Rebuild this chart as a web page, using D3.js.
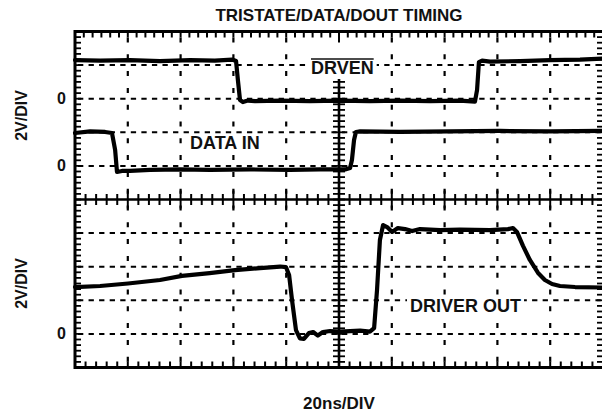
<!DOCTYPE html>
<meta charset="utf-8">
<style>
  body { margin:0; background:#fff; }
  svg { display:block; }
  text {
    font-family: "Liberation Sans", Arial, Helvetica, sans-serif;
    font-weight: bold;
    fill: #111;
  }
</style>
<svg width="602" height="416"></svg>
<script src="https://cdn.jsdelivr.net/npm/d3@7"></script>
<script>

// scope traces: time in ns (0 = centre), level in volts
var drvenT = [-100, -90.5, -79.2, -67.8, -56.4, -47.0, -40.5, -39.0, -38.3, -37.5, -36.4, -34.5, -31.8, -22.3, -11.0, 0, 11.7, 23.1, 34.5, 45.8, 51.5, 52.3, 53.0, 54.2, 57.2, 68.6, 79.9, 91.3, 100];
var drvenV = [2.30, 2.27, 2.30, 2.24, 2.30, 2.27, 2.33, 2.24, 1.11, -0.08, -0.20, -0.11, -0.14, -0.11, -0.14, -0.11, -0.14, -0.11, -0.14, -0.11, -0.17, 0.52, 2.18, 2.27, 2.21, 2.24, 2.30, 2.33, 2.39];

var dataInT = [-100, -94.3, -88.6, -86.0, -84.8, -84.1, -82.2, -79.2, -71.6, -60.2, -48.9, -33.7, -18.6, -7.2, 2.3, 4.2, 4.9, 5.7, 6.4, 8.0, 23.1, 42.0, 61.0, 79.9, 100];
var dataInV = [1.96, 2.05, 2.02, 1.96, 0.95, -0.36, -0.30, -0.30, -0.24, -0.21, -0.24, -0.21, -0.24, -0.21, -0.21, -0.12, 0.35, 1.54, 2.02, 2.05, 2.02, 2.05, 2.08, 2.05, 2.08];

var driverOutT = [-100, -90.5, -79.9, -67.8, -59.5, -49.0, -39.4, -29.9, -22.3, -20.1, -18.9, -17.8, -16.3, -14.8, -13.3, -11.4, -9.8, -8.0, -6.1, -3.4, 0.4, 4.2, 8.0, 11.7, 13.3, 14.4, 15.5, 16.7, 18.2, 20.1, 22.3, 25.0, 27.7, 30.7, 38.3, 45.8, 57.2, 64.0, 65.9, 67.4, 69.7, 72.3, 75.4, 78.0, 80.7, 83.7, 89.4, 100];
var driverOutV = [2.79, 2.85, 3.00, 3.21, 3.45, 3.62, 3.80, 3.92, 4.01, 3.98, 3.51, 2.02, 0.23, -0.27, -0.30, 0.05, 0.11, -0.10, 0.11, 0.17, 0.14, 0.17, 0.20, 0.14, 0.35, 2.61, 5.59, 6.48, 6.36, 6.07, 6.30, 6.24, 6.12, 6.24, 6.18, 6.21, 6.18, 6.24, 6.30, 6.07, 5.24, 4.40, 3.63, 3.21, 2.97, 2.85, 2.79, 2.76];

// zero level of each trace, in screen divisions from the centre
var traceNames = ["DRVEN", "DATA IN", "DRIVER OUT"];
var zeroDivs = [3, 1, -4];
var voltsPerDiv = 2;
var zeroLabel = "0";
var scaleLabel = "2V/DIV";
var titleText = "TRISTATE/DATA/DOUT TIMING";
var timeLabel = "20ns/DIV";

var svg = d3.select("svg"),
    x = d3.scaleLinear().domain([-100, 100]).range([75, 603]),
    y = d3.scaleLinear().domain([-5, 5]).range([367.5, 31.5]);

var nsPerDiv = 20;

// dashed graticule
var grid = svg.append("g").attr("stroke", "#000");

grid.selectAll(".vg")
  .data(d3.range(-80, 81, nsPerDiv).filter(function(d) { return d != 0; }))
  .enter().append("line")
    .attr("x1", x).attr("x2", x)
    .attr("y1", y(5)).attr("y2", y(-5))
    .attr("stroke-width", 2.2)
    .attr("stroke-dasharray", "5,11.8")
    .attr("stroke-dashoffset", -6);

grid.selectAll(".hg")
  .data(d3.range(-4, 5).filter(function(d) { return d != 0; }))
  .enter().append("line")
    .attr("y1", y).attr("y2", y)
    .attr("x1", x(-100)).attr("x2", x(100))
    .attr("stroke-width", 2)
    .attr("stroke-dasharray", "5.3,5.26")
    .attr("stroke-dashoffset", -3);

// centre cross with minor ticks; the vertical one starts below the DRVEN label
var crossTop = 79;
var cross = svg.append("g").attr("stroke", "#000");

cross.append("line")
  .attr("x1", x(-100)).attr("x2", x(100))
  .attr("y1", y(0)).attr("y2", y(0))
  .attr("stroke-width", 2.6);

cross.selectAll(".ht")
  .data(d3.range(-100, 100.1, nsPerDiv / 5))
  .enter().append("line")
    .attr("x1", x).attr("x2", x)
    .attr("y1", function(d) { return y(0) - (d % nsPerDiv == 0 ? 9 : 5.5); })
    .attr("y2", function(d) { return y(0) + (d % nsPerDiv == 0 ? 9 : 5.5); })
    .attr("stroke-width", 2);

cross.append("line")
  .attr("x1", x(0)).attr("x2", x(0))
  .attr("y1", crossTop).attr("y2", y(-5))
  .attr("stroke-width", 2.6);

cross.selectAll(".vt")
  .data(d3.range(-30, 31).map(function(d) { return d / 6; })
    .filter(function(d) { return y(d) >= crossTop; }))
  .enter().append("line")
    .attr("y1", y).attr("y2", y)
    .attr("x1", x(0) - 6).attr("x2", x(0) + 6)
    .attr("stroke-width", 1.8);

// frame with inward ticks (right edge line falls just outside the picture)
var frame = svg.append("g").attr("stroke", "#000");

frame.append("rect")
  .attr("x", x(-100)).attr("y", y(5))
  .attr("width", x(100) - x(-100) + 2)
  .attr("height", y(-5) - y(5))
  .attr("fill", "none")
  .attr("stroke-width", 3);

frame.selectAll(".lt")
  .data(d3.range(-30, 31).map(function(d) { return d / 6; }))
  .enter().append("line")
    .attr("y1", y).attr("y2", y)
    .attr("x1", x(-100)).attr("x2", x(-100) + 6)
    .attr("stroke-width", 1.8);

frame.selectAll(".rt")
  .data(d3.range(-30, 31).map(function(d) { return d / 6; }))
  .enter().append("line")
    .attr("y1", y).attr("y2", y)
    .attr("x1", x(100)).attr("x2", x(100) - 6)
    .attr("stroke-width", 1.8);

frame.selectAll(".tt")
  .data(d3.range(-30, 31).map(function(d) { return d * nsPerDiv / 6; }))
  .enter().append("line")
    .attr("x1", x).attr("x2", x)
    .attr("y1", y(5)).attr("y2", function(d) { return y(5) + (d == 0 ? 11 : 6); })
    .attr("stroke-width", 2);

frame.selectAll(".bt")
  .data(d3.range(-100, 100.1, nsPerDiv / 5))
  .enter().append("line")
    .attr("x1", x).attr("x2", x)
    .attr("y1", y(-5)).attr("y2", function(d) { return y(-5) - (d == 0 ? 10 : 6); })
    .attr("stroke-width", 2);

// labels sitting on a white patch over the graticule
function label(txt, px, py, size) {
  var t = svg.append("text")
    .attr("x", px).attr("y", py)
    .style("font-size", size + "px")
    .text(txt);
  var b = t.node().getBBox();
  svg.insert("rect", function() { return t.node(); })
    .attr("x", b.x - 3).attr("y", b.y + 1)
    .attr("width", b.width + 6).attr("height", b.height - 1)
    .attr("fill", "#fff");
  return b;
}

var drvenBox = label(traceNames[0], 311, 74, 18);
svg.append("line")
  .attr("x1", drvenBox.x).attr("x2", drvenBox.x + drvenBox.width)
  .attr("y1", 59).attr("y2", 59)
  .attr("stroke", "#111").attr("stroke-width", 1.6);
label(traceNames[1], 190, 149, 18);
label(traceNames[2], 410, 311.5, 18);

// traces
var traces = [
  { t: drvenT, v: drvenV, zero: zeroDivs[0] },
  { t: dataInT, v: dataInV, zero: zeroDivs[1] },
  { t: driverOutT, v: driverOutV, zero: zeroDivs[2] }
];

svg.append("g")
  .selectAll("path")
  .data(traces)
  .enter().append("path")
    .attr("fill", "none")
    .attr("stroke", "#000")
    .attr("stroke-width", 4.2)
    .attr("stroke-linejoin", "round")
    .attr("stroke-linecap", "round")
    .attr("d", function(tr) {
      return d3.line()
        .x(function(d, i) { return x(tr.t[i]); })
        .y(function(d) { return y(tr.zero + d / voltsPerDiv); })(tr.v);
    });

// axis texts
svg.append("text")
  .attr("x", x(0)).attr("y", 21)
  .attr("text-anchor", "middle")
  .style("font-size", "17px")
  .text(titleText);

svg.append("text")
  .attr("x", x(0)).attr("y", 409)
  .attr("text-anchor", "middle")
  .style("font-size", "17px")
  .text(timeLabel);

svg.selectAll(".zero")
  .data(zeroDivs)
  .enter().append("text")
    .attr("x", 66)
    .attr("y", function(d) { return y(d) + 5.5; })
    .attr("text-anchor", "end")
    .style("font-size", "16px")
    .text(zeroLabel);

svg.selectAll(".scale")
  .data([2.5, -2.5])
  .enter().append("text")
    .attr("transform", function(d) { return "translate(27," + y(d) + ")rotate(-90)"; })
    .attr("text-anchor", "middle")
    .style("font-size", "16px")
    .text(scaleLabel);

</script>
